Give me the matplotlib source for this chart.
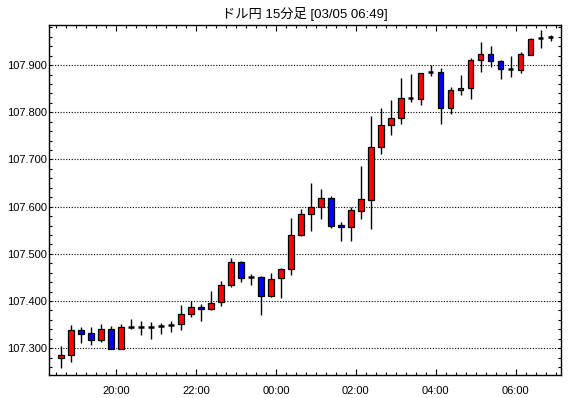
import matplotlib
matplotlib.use("Agg")
import matplotlib.pyplot as plt
import matplotlib.dates as mdates
from matplotlib.patches import Rectangle
import pandas as pd

plt.rcParams['font.family'] = ['Liberation Sans', 'Noto Sans CJK JP', 'DejaVu Sans']

# 15 minute candles, USD/JPY
title = "ドル円 15分足 [03/05 06:49]"
start = "2020-03-04 18:30"

opens = [107.280, 107.285, 107.339, 107.332, 107.317, 107.341, 107.298, 107.344, 107.345, 107.346,
         107.348, 107.350, 107.351, 107.372, 107.387, 107.383, 107.397, 107.433, 107.482, 107.450,
         107.451, 107.410, 107.448, 107.468, 107.539, 107.584, 107.599, 107.618, 107.561, 107.556,
         107.591, 107.614, 107.727, 107.773, 107.788, 107.830, 107.829, 107.885, 107.886, 107.809,
         107.847, 107.851, 107.911, 107.924, 107.908, 107.892, 107.890, 107.922, 107.957, 107.960]
highs = [107.304, 107.350, 107.344, 107.344, 107.352, 107.347, 107.351, 107.362, 107.358, 107.355,
         107.353, 107.358, 107.392, 107.400, 107.394, 107.422, 107.443, 107.492, 107.485, 107.458,
         107.453, 107.460, 107.471, 107.577, 107.595, 107.651, 107.637, 107.622, 107.567, 107.599,
         107.687, 107.793, 107.810, 107.827, 107.872, 107.882, 107.884, 107.901, 107.893, 107.853,
         107.880, 107.916, 107.948, 107.940, 107.911, 107.920, 107.928, 107.957, 107.974, 107.963]
lows = [107.258, 107.270, 107.312, 107.307, 107.314, 107.298, 107.298, 107.341, 107.329, 107.320,
        107.331, 107.335, 107.338, 107.367, 107.357, 107.380, 107.390, 107.429, 107.441, 107.433,
        107.371, 107.408, 107.407, 107.456, 107.537, 107.548, 107.573, 107.555, 107.528, 107.528,
        107.574, 107.553, 107.711, 107.751, 107.775, 107.821, 107.816, 107.877, 107.775, 107.796,
        107.836, 107.829, 107.886, 107.896, 107.871, 107.874, 107.883, 107.921, 107.936, 107.951]
closes = [107.285, 107.339, 107.331, 107.317, 107.341, 107.298, 107.345, 107.344, 107.345, 107.346,
          107.348, 107.350, 107.372, 107.387, 107.383, 107.396, 107.434, 107.482, 107.448, 107.450,
          107.410, 107.446, 107.468, 107.540, 107.584, 107.599, 107.618, 107.560, 107.556, 107.593,
          107.616, 107.727, 107.773, 107.788, 107.831, 107.830, 107.884, 107.885, 107.809, 107.848,
          107.852, 107.911, 107.924, 107.908, 107.892, 107.892, 107.924, 107.956, 107.957, 107.960]

times = pd.date_range(start, periods=len(opens), freq="15min")
slot = 15 / 1440.0  # one candle in days

fig = plt.figure(figsize=(5.70, 3.98), dpi=100)
ax = fig.add_axes([49.3 / 570, 23 / 398, (561 - 49.3) / 570, (375 - 24.7) / 398])

x0 = mdates.date2num(times[0].to_pydatetime())
body_w = slot * 0.55
for t, o, h, l, c in zip(times, opens, highs, lows, closes):
    xc = mdates.date2num(t.to_pydatetime()) + slot / 2
    ax.plot([xc, xc], [l, h], color="black", lw=1.0, zorder=2, solid_capstyle="butt")
    if abs(c - o) < 1e-9:
        ax.plot([xc - body_w / 2, xc + body_w / 2], [o, o], color="black", lw=1.8, zorder=3,
                solid_capstyle="butt")
    else:
        col = "#ff0000" if c > o else "#0000ff"
        ax.add_patch(Rectangle((xc - body_w / 2, min(o, c)), body_w, abs(c - o),
                               facecolor=col, edgecolor="black", lw=0.9, zorder=3))

ax.set_xlim(x0 - 0.68 * slot, x0 + 50.54 * slot)
ax.set_ylim(107.2433, 107.9856)

ax.yaxis.set_major_locator(plt.MultipleLocator(0.1))
ax.yaxis.set_minor_locator(plt.MultipleLocator(0.02))
ax.yaxis.set_major_formatter(plt.FormatStrFormatter("%.3f"))
ax.xaxis.set_major_locator(mdates.HourLocator(byhour=range(0, 24, 2)))
ax.xaxis.set_minor_locator(mdates.MinuteLocator(byminute=[0, 15, 30, 45]))
ax.xaxis.set_major_formatter(mdates.DateFormatter("%H:%M"))

ax.grid(axis="y", which="major", color="black", linestyle=(0, (1, 1.5)), lw=0.8)
ax.tick_params(axis="both", which="both", direction="in", top=True, right=True,
               color="black", width=0.8, labelsize=8)
ax.tick_params(axis="x", which="major", length=4.5, pad=8)
ax.tick_params(axis="x", which="minor", length=2.2)
ax.tick_params(axis="y", which="major", length=2.2, pad=1.5)
ax.tick_params(axis="y", which="minor", length=2.2)
for sp in ax.spines.values():
    sp.set_linewidth(1.0)
    sp.set_color("black")

fig.text((49.3 + 561) / 2 / 570, 1 - 14 / 398, title, ha="center", va="center", fontsize=9.5)

fig.savefig("out.png", dpi=100)
